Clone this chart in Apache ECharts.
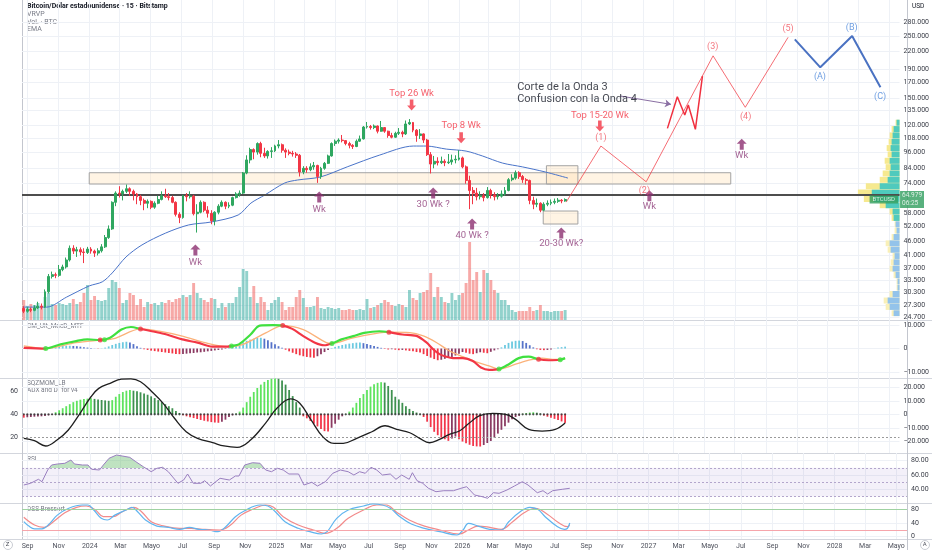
<!DOCTYPE html>
<html>
<head>
<meta charset="utf-8">
<script src="https://cdn.jsdelivr.net/npm/echarts@6/dist/echarts.min.js"></script>
<style>html,body{margin:0;padding:0;background:#fff;}#chart{width:932px;height:550px;}</style>
</head>
<body>
<div id="chart"></div>
<script>
// ================= DATA =================
const weekStart = '2023-08-21';          // first weekly candle
const weekCount = 248;                   // weeks shown on the time axis (incl. projection)
const xTickLabels = [
  ['2023-09-01','Sep'],['2023-11-01','Nov'],['2024-01-01','2024'],['2024-03-01','Mar'],['2024-05-01','Mayo'],
  ['2024-07-01','Jul'],['2024-09-01','Sep'],['2024-11-01','Nov'],['2025-01-01','2025'],['2025-03-01','Mar'],
  ['2025-05-01','Mayo'],['2025-07-01','Jul'],['2025-09-01','Sep'],['2025-11-01','Nov'],['2026-01-01','2026'],
  ['2026-03-01','Mar'],['2026-05-01','Mayo'],['2026-07-01','Jul'],['2026-09-01','Sep'],['2026-11-01','Nov'],
  ['2027-01-01','2027'],['2027-03-01','Mar'],['2027-05-01','Mayo'],['2027-07-01','Jul'],['2027-09-01','Sep'],
  ['2027-11-01','Nov'],['2028-01-01','2028'],['2028-03-01','Mar'],['2028-05-01','Mayo']
];
const priceTicks = [24.7,27.3,30.3,33.5,37,41,46,52,58,74,84,96,108,120,135,150,170,190,220,250,280]; // thousand USD
const macdTicks = [10,0,-10];
const sqzTicks = [20,10,0,-10,-20];
const adxTicks = [60,40,20];
const rsiTicks = [80,60,40];
const dssTicks = [80,40,0];

// weekly BTC candles, thousand USD
const firstOpen = 26.5;
const closes = [
 25.9,26.3,26.1,26.6,27.0,26.8,30.4,34.5,35.0,34.8,
 36.5,37.3,39.5,43.5,42.5,43.0,42.2,42.0,43.2,42.5,
 41.8,42.6,44.0,47.5,51.0,63.5,68.5,68.0,69.5,71.0,
 69.5,68.0,66.5,64.5,63.0,64.0,61.0,63.0,65.0,67.0,
 66.5,66.0,63.5,57.5,56.0,67.0,66.5,66.8,57.8,58.5,
 63.5,59.5,58.0,54.5,58.5,61.5,63.5,61.5,62.0,66.0,
 68.0,68.5,80.8,90.0,98.0,96.0,103.0,95.0,93.0,96.5,
 97.0,101.0,102.0,97.5,96.0,95.0,94.5,93.5,81.5,84.0,
 83.0,85.0,86.0,78.5,84.0,87.5,93.0,103.0,105.0,106.0,
 105.5,103.0,101.5,100.5,105.0,107.0,118.0,118.5,117.5,119.0,
 114.0,117.5,114.0,110.0,108.5,112.0,113.0,111.5,121.0,122.5,
 115.0,110.0,111.5,106.0,94.0,87.0,89.0,88.0,89.0,88.0,
 88.5,90.0,90.5,91.5,85.0,76.0,70.0,68.5,66.5,67.0,
 66.0,70.0,67.5,66.5,66.8,68.0,70.0,76.5,77.5,81.0,
 78.5,76.5,76.0,64.5,62.5,63.0,59.5,62.5,63.0,63.5,
 64.0,64.6,64.2,64.979];
const highs = [
 27.0,26.8,26.7,27.2,28.0,27.6,31.0,35.2,35.9,35.6,
 37.9,38.0,40.3,44.5,44.6,44.0,43.8,43.5,44.0,43.9,
 43.0,43.5,45.0,48.5,52.5,64.0,69.5,72.5,70.5,73.5,
 71.8,70.5,68.5,67.5,65.5,65.0,64.5,64.0,67.0,69.5,
 71.0,68.5,67.0,64.0,58.5,67.5,68.5,69.5,67.5,62.5,
 64.5,64.0,61.5,59.5,59.0,62.5,64.5,64.0,63.5,66.5,
 69.0,70.0,81.5,93.5,99.5,99.0,104.0,104.5,99.5,97.5,
 100.0,102.0,106.0,103.0,99.0,98.0,97.0,96.0,94.5,85.5,
 85.5,87.5,88.5,86.5,85.0,88.5,94.0,104.0,106.5,107.5,
 110.5,106.0,104.5,102.5,106.5,110.0,119.0,123.0,120.0,120.5,
 119.5,124.0,118.0,114.5,112.5,113.5,117.0,114.5,124.5,126.0,
 123.0,116.0,116.0,112.0,107.0,96.0,93.0,92.0,92.5,90.5,
 94.5,94.0,93.5,97.5,92.5,86.0,79.0,72.0,71.5,69.5,
 68.5,72.0,71.0,69.0,68.5,70.0,72.0,77.5,80.0,82.5,
 82.0,79.5,77.5,76.5,66.5,65.5,63.5,63.5,64.5,65.0,
 65.5,65.8,65.2,65.6];
const lows = [
 25.5,25.6,25.7,25.9,26.4,26.3,26.6,30.0,33.9,34.0,
 34.4,36.0,36.8,39.0,41.5,40.5,41.0,38.5,41.5,41.6,
 40.5,41.0,42.0,43.6,47.0,50.6,61.5,66.0,64.5,68.5,
 67.0,64.5,62.5,62.0,59.5,60.5,60.0,60.2,62.5,64.5,
 65.8,64.5,63.0,56.5,53.5,55.5,64.0,65.5,57.0,49.5,
 58.0,58.5,56.0,53.0,52.5,57.5,61.0,60.0,60.5,61.5,
 65.5,66.5,68.0,80.0,87.5,90.5,94.0,92.0,91.5,91.0,
 91.5,96.0,99.0,95.5,91.5,93.5,92.5,91.5,78.5,80.0,
 81.0,82.0,83.0,74.5,77.0,83.0,87.0,92.5,101.0,103.0,
 104.0,101.5,99.0,98.5,100.0,104.5,106.5,116.5,115.5,116.0,
 112.0,113.5,112.5,108.0,107.5,108.0,110.5,108.5,110.5,120.0,
 113.0,104.5,107.0,103.5,93.0,80.5,84.0,86.0,87.0,85.5,
 87.0,86.5,87.5,89.5,84.0,74.0,60.0,62.5,64.5,65.0,
 64.0,65.5,65.5,64.5,65.0,66.0,67.0,69.5,75.5,76.5,
 77.0,74.5,73.5,62.5,60.0,61.0,58.5,59.0,61.5,62.0,
 62.5,63.2,63.0,63.8];
// weekly volume (relative units)
const volumes = [
 20,14,16,15,17,13,23,27,16,15, 17,16,15,17,21,16,18,27,35,20,
 24,20,19,20,32,40,38,32,17,20, 27,25,15,21,13,18,16,17,15,18,
 17,20,18,21,22,25,23,25,37,27, 22,20,18,22,21,12,17,13,17,17,
 23,33,51,49,23,34,17,23,18,10, 17,20,23,18,10,13,13,23,30,22,
 13,13,14,23,12,11,13,12,11,12, 10,10,11,10,10,11,10,21,12,13,
 15,17,20,18,15,14,16,15,13,30, 22,20,27,28,30,47,23,33,23,18,
 17,27,20,25,27,37,78,40,48,28, 50,47,40,30,27,20,20,15,10,8,
 9,9,9,13,9,10,15,9,9,8, 9,9,9,10];
// EMA (week index, thousand USD)
const emaPts = [[0,26.8],[6.5,26.8],[12.1,29.1],[18.5,31.9],[22.2,33.0],[25,35.5],[28.9,40.5],[33.4,44.7],[40.1,49.3],[46.6,52.7],[53,54.0],[60.6,57.2],[64.2,63.1],[68.1,67.4],[73.7,74.4],[77.4,76.3],[83.8,78.2],[91.4,85.0],[100.6,93.7],[110.1,100.9],[113.8,100.9],[119.4,98.4],[125,96.8],[129.7,92.9],[135.3,87.7],[140.9,85.0],[147.4,81.5],[153.8,77.5]];
// visible-range volume profile (price bucket edges, total width, up part)
const profEdges = [24.8,26.1,27.5,29.0,30.6,32.2,33.9,35.8,37.7,39.7,41.8,44.1,46.4,48.9,51.5,54.3,57.2,60.3,63.5,66.9,70.5,74.3,78.3,82.5,86.9,91.6,96.5,101.7,107.1,112.9,118.9,125.3];
const profTotal = [8,14,16,10,3,3,6,10,9,7,12,14,8,5,5,8,10,20,36,42,34,20,17,14,15,12,13,11,10,8,4];
const profUp    = [6,10,12,7,2,2,4,7,6,5,9,10,6,3,4,6,7,14,26,28,20,12,10,9,10,8,9,8,7,6,3];
const valueAreaLow = 54.3;
// drawings
const levelLine = 67.7;
const boxes = [[18.5,81.0,199.8,73.8],[147.7,85.8,156.6,73.8],[146.8,59.1,156.6,53.1]];
const waveRed = [[153.3,63.6],[163.1,100.9],[175.9,75.2],[194.8,212],[203.9,138.8],[216,246.9]];
const zigzag = [[181.9,116.7],[184.7,151.4],[186.8,130.3],[187.8,141.4],[189.8,115.8],[191.8,179.5]];
const waveABC = [[217.9,242.9],[225.1,192.9],[234.1,249.5],[242.1,163.6]];
const noteArrow = [[168.6,152.3],[182.9,142.2]];
const noteText = [['Corte de la Onda 3\nConfusion con la Onda 4',139.3,155.5]];
const redArrows = [[109.6,141.4],[123.6,108.0],[162.8,118.9]];
const redTexts = [['Top 26 Wk',109.6,154.8],['Top 8 Wk',123.6,119.2],['Top 15-20 Wk',162.8,129.2]];
const wkArrows = [[48.5,42.9],[83.5,66.3],[115.7,68.5],[126.7,53.1],[151.9,49.3],[176.8,67.0],[202.9,102.5]];
const wkTexts = [['Wk',48.5,38.8],['Wk',83.5,59.6],['30 Wk ?',115.7,62.1],['40 Wk ?',126.7,48.1],['20-30 Wk?',151.9,45.1],['Wk',176.8,61.5],['Wk',202.9,93.6]];
const waveTexts = [['(1)',163.1,107.8],['(2)',175.4,69.7],['(3)',194.7,228],['(4)',204,128.5],['(5)',216,264]];
const abcTexts = [['(A)',225,178],['(B)',234,266.5],['(C)',242,151.5]];
// MACD (thousand USD)
const macdLine = [[0,0.3],[6.2,0.0],[10.4,1.8],[14.8,3.2],[18,3.9],[21.6,3.6],[24.4,4.6],[27.6,8.1],[30.3,9.2],[33,8.4],[36.2,7.4],[40.4,6.0],[44.8,3.9],[49.1,2.5],[53.3,0.8],[57.6,0.8],[58.7,1.1],[60.8,1.8],[64.1,6.0],[66.7,9.8],[70.5,10.0],[73.2,9.8],[75.9,8.4],[79,5.3],[82.3,2.5],[84.9,1.4],[87.1,2.2],[89.8,3.9],[93.1,5.3],[96.2,6.7],[100.5,7.4],[103.2,7.0],[107,6.0],[111,5.4],[113.8,2.6],[115.7,-0.3],[117.5,-2.4],[119.4,-3.5],[121.3,-4.1],[124.1,-4.1],[126.9,-5.3],[129.2,-8.1],[131.5,-9.1],[134.3,-8.8],[137.1,-6.7],[139.9,-4.1],[142.7,-3.5],[145.5,-4.6],[148.3,-5.0],[151.6,-4.8],[153,-4.1]];
const macdSignal = [[0,1.1],[6.2,0.0],[14.8,2.5],[21.6,3.6],[25.5,4.2],[33,8.4],[38.3,7.4],[44.8,5.3],[51.2,2.5],[57.6,0.8],[62,1.8],[68.4,6.7],[73.2,9.8],[79,8.1],[85.5,2.5],[87.1,2.2],[93.1,4.6],[100.5,6.7],[103.2,7.0],[109.1,6.8],[112.9,5.4],[116.6,2.6],[120.3,-1.0],[124.1,-3.5],[127.8,-5.7],[131.5,-7.4],[134.3,-8.8],[139,-6.7],[142.7,-5.0],[146.5,-4.1],[150.2,-4.7],[153,-4.4]];
const macdCross = [[6.2,0.0,1],[21.6,3.6,0],[22.8,3.8,1],[33,8.4,0],[58.7,1.1,1],[73.2,9.8,0],[87.1,2.2,1],[103.2,7.0,0],[134.3,-8.8,1],[145.5,-4.6,0],[151.6,-4.8,1]];
const macdHist = [
 -0.15,-0.15,-0.15,-0.15,-0.15,-0.1,0.2,0.4,0.6,0.8, 1.0,1.1,1.2,1.2,1.1,1.0,0.8,0.6,0.4,0.2,
 0.05,-0.05,0.1,0.4,0.9,1.5,2.0,2.4,2.7,2.9, 2.6,1.9,1.0,0.3,-0.3,-0.6,-0.9,-1.1,-1.3,-1.5,
 -1.7,-1.9,-2.1,-2.3,-2.4,-2.3,-2.2,-2.0,-1.9,-1.7, -1.6,-1.4,-1.2,-1.0,-0.8,-0.6,-0.4,-0.2,0.3,0.8,
 1.4,2.0,2.7,3.3,3.8,4.2,4.5,4.6,4.2,3.5, 2.7,1.8,1.0,0.3,-0.5,-1.2,-1.8,-2.4,-2.9,-3.3,
 -3.6,-3.8,-3.9,-3.3,-2.4,-1.5,-0.6,0.2,0.7,1.1, 1.5,1.8,2.1,2.3,2.5,2.6,2.3,1.9,1.5,1.1,
 0.7,0.3,-0.2,-0.4,-0.3,-0.5,-0.7,-0.6,-0.8,-1.0, -1.2,-1.5,-1.7,-2.4,-3.2,-3.9,-4.5,-5.0,-4.8,-4.4,
 -4.0,-3.6,-3.0,-2.2,-1.5,-1.8,-2.2,-2.4,-2.0,-1.6, -1.8,-2.0,-1.4,-0.8,-0.3,0.5,1.5,2.4,3.0,3.3,
 3.4,3.2,2.4,1.4,0.5,-0.3,-0.6,-0.7,-0.6,-0.4, 0.1,0.4,0.6,0.8];
// Squeeze momentum (thousand USD) and ADX
const sqzHist = [
 -2.5,-2.2,-2.0,-1.8,-1.6,-1.5,-1.2,-0.8,-0.3,1.5, 3.0,4.5,6.0,7.5,9.0,10.0,10.8,11.3,11.6,11.8,
 11.4,11.0,10.6,10.3,10.0,10.5,13.0,15.0,16.5,17.5, 18.0,17.5,17.0,16.3,15.5,14.5,13.3,12.0,10.5,9.0,
 7.5,6.0,4.5,2.5,1.0,-0.8,-1.5,-2.2,-2.8,-3.5, -4.2,-4.8,-5.3,-5.8,-6.1,-6.3,-5.5,-4.0,-2.0,-0.8,
 0.5,2.0,5.0,9.0,13.0,16.5,19.5,22.0,24.0,25.5, 26.3,26.6,26.3,25.0,22.0,18.0,13.5,9.0,5.0,-1.5,
 -3.0,-5.0,-7.0,-9.0,-11.0,-12.5,-12.8,-10.0,-7.0,-4.0, -1.5,0.3,2.0,5.0,8.5,12.0,15.0,18.0,20.5,22.3,
 23.3,23.8,23.5,21.0,18.0,13.0,11.0,8.5,6.0,4.0, 2.5,1.3,0.4,-2.0,-5.5,-9.5,-13.0,-15.5,-17.3,-18.5,
 -19.7,-18.0,-16.5,-18.5,-20.2,-21.5,-22.6,-23.5,-23.8,-23.9, -22.8,-21.3,-19.8,-17.2,-14.3,-11.5,-8.8,-6.2,-3.7,-2.0,
 -1.2,0.4,0.9,1.3,1.5,1.2,0.6,-1.0,-1.8,-2.6, -3.4,-4.3,-5.3,-6.4];
const adxPts = [[0,18.9],[3,16.8],[6.2,12.2],[9.4,17.4],[12.6,26.1],[15.9,40.6],[19,55],[21.2,62.3],[24.4,66.7],[27.6,70.3],[30.3,70.6],[33,68.1],[36.2,59.4],[39.4,49.3],[42.6,36.3],[45.9,24.6],[49.1,18.9],[53.4,15.1],[56.6,12.2],[60.3,11],[64.1,17.4],[68.4,32.3],[71.6,45.2],[75.4,53.1],[78,49.3],[81.2,34.8],[84.5,20.3],[87.7,14.5],[90.3,14.5],[94.1,18.9],[98.4,24.6],[102.1,29.8],[105.4,26.7],[109.1,23.7],[111.9,18.8],[114.7,15],[117.5,17.9],[120.3,22.3],[123.1,25.2],[125.5,31],[128.7,38.3],[132.5,40.5],[136.2,39.7],[139,35.3],[142.7,26.6],[146.5,25.2],[150.2,26.6],[153,32.2]];
// RSI
const rsiPts = [[0,46],[1.9,48.4],[4.1,54],[5.1,50.6],[6.7,67],[7.8,74],[9.4,75.4],[11.5,76.4],[13.2,81],[14.2,75.4],[16.4,74],[18,74],[19,68],[21.2,67],[22.3,74],[23.9,83.4],[26,88],[27.6,86.6],[29.7,84.7],[31.4,78.6],[33.5,71.6],[35.7,64.6],[37.3,69.4],[38.9,70.8],[40.5,64.6],[43.2,48.4],[44.8,53],[45.9,61.4],[47.5,48.4],[49.6,48.4],[50.7,52],[52.3,44.6],[55,55.4],[57.6,53],[59.3,58.6],[60.3,58.6],[61.9,74],[64.1,77.2],[66.2,76.4],[67.8,67],[69.4,64.6],[71.1,69.4],[72.7,67],[74.3,61.4],[77,61.4],[78.5,46],[80.7,49.8],[82.3,44.6],[84.5,50.6],[86.6,62.4],[88.7,67],[90.9,64.6],[92.5,60],[94.1,64.6],[95.7,62.4],[97.3,70.8],[98.9,67],[100.5,60],[102.7,61.4],[104.3,54],[105.9,60],[108,54],[108.9,63.2],[110.2,52],[111.8,48.4],[113.4,41.4],[115.5,36.6],[117.7,38],[120.4,38],[122.5,41.4],[124.1,43.6],[126.3,32],[128.4,29.7],[130,27.4],[131.6,35.2],[133.2,34.4],[135.4,39],[137.5,44.6],[139.7,50.6],[141.3,46],[143.9,35.2],[145.5,38],[146.8,33.4],[148.2,38],[150.9,40],[153,41.4]];
// DSS Bressert
const dssBlue = [[0,43.8],[1.4,31],[3,23],[5.1,23],[7.3,39],[9.4,63],[12.6,83],[16.4,92.5],[18,92.5],[19.6,78],[21.7,53.7],[23.4,48.8],[25.5,63],[28.7,78],[30.3,85.8],[31.9,73],[34.1,48.8],[37.3,31],[40.5,27.4],[43.7,21.6],[46.4,27.4],[49.1,21.6],[51.8,19.6],[54.4,14.6],[56.6,29.2],[59.3,58.4],[61.9,76],[66.2,92.5],[68.4,89.6],[70.5,73],[73.2,43.8],[76.9,24.5],[80.2,14.6],[83.4,7.9],[85,14.6],[87.7,53.7],[90.9,78],[95.2,89.6],[97.8,95.5],[100.5,92.5],[102.7,83],[105.4,58.4],[108.6,37],[112.3,24.5],[116.6,14.6],[121.4,5],[123.1,19.6],[124.6,39],[127.3,31],[130.6,21.6],[133.8,19.6],[135.9,43.8],[139.1,73],[141.8,85.8],[144,80],[146.1,58.4],[149.3,31],[151.5,21.6],[152.3,24],[153,40]];
const dssRed = [[0,56.6],[3,34],[5.7,27.4],[8.3,43.8],[11.5,70],[14.8,85.8],[17.5,89.6],[20.1,78],[22.3,58.4],[25,58.4],[27.6,73],[30.8,85.8],[33,73],[35.7,43.8],[39.4,31],[43.7,24.5],[46.9,24.5],[50.1,21.6],[55,19.6],[57.6,31],[60.9,63],[64.1,80],[67.8,92.5],[70,85.8],[72.7,58.4],[76.9,34],[81.2,19.6],[84.5,9.9],[87.7,24.5],[90.9,53.7],[95.2,78],[98.9,92.5],[101.6,92.5],[104.3,73],[108,48.8],[112.3,31],[116.6,19.6],[122,7.9],[124.6,19.6],[127.3,31],[130.6,27.4],[133.8,21.6],[137,43.8],[140.2,70],[143.4,83],[146.6,66.3],[149.9,40.9],[152.3,29.5],[153,33]];
const priceCountdown = '06:25';

// ================= CHART =================
const FONT = 'Roboto, "Noto Sans", sans-serif';
const START = Date.parse(weekStart + 'T00:00:00Z');
const wkPos = d => (Date.parse(d + 'T00:00:00Z') - START) / (7 * 864e5) - 0.5;
const xVals = xTickLabels.map(t => wkPos(t[0]));
const xLabelMap = {};
xTickLabels.forEach((t, i) => { xLabelMap[xVals[i].toFixed(3)] = t[1]; });
const GRID_L = 22, GRID_R = 25;
const grids = [
  {left: GRID_L, right: GRID_R, top: 0, height: 320},
  {left: GRID_L, right: GRID_R, top: 320, height: 58},
  {left: GRID_L, right: GRID_R, top: 378, height: 75},
  {left: GRID_L, right: GRID_R, top: 453, height: 50},
  {left: GRID_L, right: GRID_R, top: 503, height: 36}
];
const gridLineColor = '#eef1f6';
function mkX(gi, showLabel) {
  return {type: 'value', gridIndex: gi, min: -0.5, max: weekCount - 0.5,
    axisLine: {show: false}, axisTick: {show: false, customValues: xVals},
    axisLabel: {show: showLabel, customValues: xVals, formatter: v => xLabelMap[Number(v).toFixed(3)] || '',
      fontSize: 7, color: '#50535e', margin: 4, fontFamily: FONT},
    splitLine: {show: true, lineStyle: {color: gridLineColor, width: 1}}};
}
const lbl = (vals, fmt, extra) => Object.assign({customValues: vals, formatter: fmt, fontSize: 7, color: '#3d404a', margin: 4, fontFamily: FONT}, extra || {});
const kfmt = v => v === 0 ? '0' : (v < 0 ? '\u2212' : '') + Math.abs(v).toFixed(3);
const xAxes = [
  mkX(0, false),
  {type: 'value', gridIndex: 0, min: 0, max: 932 - GRID_L - GRID_R, inverse: true, show: false},
  mkX(1, false), mkX(2, false), mkX(3, false), mkX(4, true)
];
const yAxes = [
  {type: 'log', gridIndex: 0, position: 'right', min: 24.1, max: 335.7, axisLine: {show: false},
   axisTick: {show: false, customValues: priceTicks}, axisLabel: lbl(priceTicks, v => Number(v).toFixed(3)),
   splitLine: {show: true, lineStyle: {color: gridLineColor}}},
  {type: 'value', gridIndex: 0, min: 0, max: 320, show: false},
  {type: 'value', gridIndex: 1, position: 'right', min: -12.6, max: 12.2, axisLine: {show: false},
   axisTick: {show: false, customValues: macdTicks}, axisLabel: lbl(macdTicks, kfmt),
   splitLine: {show: true, lineStyle: {color: gridLineColor}}},
  {type: 'value', gridIndex: 2, position: 'right', min: -28.7, max: 26.9, axisLine: {show: false},
   axisTick: {show: false, customValues: sqzTicks}, axisLabel: lbl(sqzTicks, kfmt),
   splitLine: {show: true, lineStyle: {color: gridLineColor}}},
  {type: 'value', gridIndex: 2, position: 'left', min: 6.1, max: 71.3, axisLine: {show: false},
   axisTick: {show: false, customValues: adxTicks}, axisLabel: lbl(adxTicks, v => String(v), {margin: 4}),
   splitLine: {show: false}},
  {type: 'value', gridIndex: 3, position: 'right', min: 20.8, max: 90.8, axisLine: {show: false},
   axisTick: {show: false, customValues: rsiTicks}, axisLabel: lbl(rsiTicks, v => Number(v).toFixed(2)),
   splitLine: {show: true, lineStyle: {color: gridLineColor}}},
  {type: 'value', gridIndex: 4, position: 'right', min: -6.7, max: 98.4, axisLine: {show: false},
   axisTick: {show: false, customValues: dssTicks}, axisLabel: lbl(dssTicks, v => String(v)),
   splitLine: {show: true, lineStyle: {color: gridLineColor}}}
];

const UP = '#2fa760', DOWN = '#f23645';
const candleData = closes.map((c, i) => [i, i ? closes[i - 1] : firstOpen, c, lows[i], highs[i]]);
const last = closes[closes.length - 1];
const series = [];
function add(s) { series.push(s); return series.length - 1; }

// volume
add({type: 'bar', xAxisIndex: 0, yAxisIndex: 1, z: 1, barWidth: 2.9, silent: true,
  data: volumes.map((v, i) => ({value: [i, v], itemStyle: {color: candleData[i][2] >= candleData[i][1] ? 'rgba(38,166,154,0.5)' : 'rgba(239,83,80,0.5)'}}))});
// boxes
add({type: 'line', xAxisIndex: 0, yAxisIndex: 0, data: [], z: 2, silent: true,
  markArea: {silent: true, itemStyle: {color: 'rgba(255,222,170,0.32)', borderColor: '#a3a3a3', borderWidth: 1},
    data: boxes.map(b => [{coord: [b[0], b[1]]}, {coord: [b[2], b[3]]}])}});
// volume profile
add({type: 'custom', xAxisIndex: 1, yAxisIndex: 0, z: 2, silent: true,
  data: profTotal.map((t, i) => [profEdges[i], profEdges[i + 1], t, profUp[i]]),
  encode: {x: [2, 3], y: [0, 1]},
  renderItem: (params, api) => {
    const lo = api.value(0), hi = api.value(1), tot = api.value(2), up = api.value(3);
    const a = api.coord([0, hi]), b = api.coord([tot, lo]), c = api.coord([up, lo]);
    const inVA = lo >= valueAreaLow - 0.01;
    const h = Math.max(0.5, b[1] - a[1] - 0.4);
    return {type: 'group', children: [
      {type: 'rect', shape: {x: b[0], y: a[1], width: a[0] - b[0], height: h}, style: {fill: inVA ? '#f6e98f' : '#f9f0b8'}},
      {type: 'rect', shape: {x: c[0], y: a[1], width: a[0] - c[0], height: h}, style: {fill: inVA ? '#4fcabd' : '#93c3ea'}}
    ]};
  }});
// candles
add({type: 'candlestick', xAxisIndex: 0, yAxisIndex: 0, z: 5, barWidth: 2.4, silent: true,
  dimensions: ['t', 'open', 'close', 'lowest', 'highest'],
  encode: {x: 't', y: ['open', 'close', 'lowest', 'highest']},
  data: candleData,
  itemStyle: {color: UP, color0: DOWN, borderColor: UP, borderColor0: DOWN, borderWidth: 1},
  markLine: {silent: true, symbol: 'none', animation: false,
    data: [{yAxis: levelLine, lineStyle: {color: '#4d4d4d', width: 2, type: 'solid'}, label: {show: false}}]}});
// EMA
add({type: 'line', xAxisIndex: 0, yAxisIndex: 0, z: 4, data: emaPts, symbol: 'none', smooth: 0.3, silent: true,
  lineStyle: {color: '#4a74c9', width: 1}});
// projections
add({type: 'line', xAxisIndex: 0, yAxisIndex: 0, z: 6, data: waveRed, symbol: 'none', silent: true,
  lineStyle: {color: 'rgba(242,60,70,0.75)', width: 1}});
add({type: 'line', xAxisIndex: 0, yAxisIndex: 0, z: 6, data: zigzag, symbol: 'none', silent: true,
  lineStyle: {color: '#f0303f', width: 1.5}});
add({type: 'line', xAxisIndex: 0, yAxisIndex: 0, z: 6, data: waveABC, symbol: 'none', silent: true,
  lineStyle: {color: '#4a72c2', width: 2}});
add({type: 'line', xAxisIndex: 0, yAxisIndex: 0, z: 6, data: [], silent: true,
  markLine: {silent: true, symbol: ['none', 'arrow'], symbolSize: 6, animation: false,
    lineStyle: {color: '#8a6fa3', width: 1, type: 'solid'}, label: {show: false},
    data: [[{coord: noteArrow[0]}, {coord: noteArrow[1]}]]}});
// arrows
const upArrow = 'path://M5,0 L10,5 L7,5 L7,11 L3,11 L3,5 L0,5 Z';
const downArrow = 'path://M3,0 L7,0 L7,6 L10,6 L5,11 L0,6 L3,6 Z';
add({type: 'scatter', xAxisIndex: 0, yAxisIndex: 0, z: 7, silent: true, symbol: downArrow, symbolSize: [9, 11],
  itemStyle: {color: '#f23645'}, data: redArrows});
add({type: 'scatter', xAxisIndex: 0, yAxisIndex: 0, z: 7, silent: true, symbol: upArrow, symbolSize: [10, 11],
  itemStyle: {color: '#8c2f70'}, data: wkArrows});
// texts
function textSeries(items, color, size, extra) {
  return {type: 'scatter', xAxisIndex: 0, yAxisIndex: 0, z: 8, silent: true, symbolSize: 1,
    itemStyle: {color: 'rgba(0,0,0,0)'},
    data: items.map(t => ({name: t[0], value: [t[1], t[2]]})),
    label: Object.assign({show: true, position: 'inside', formatter: '{b}', color: color, fontSize: size, fontFamily: FONT}, extra || {})};
}
add(textSeries(redTexts, '#f23645', 9.5));
add(textSeries(wkTexts, '#8c3b78', 9.5));
add(textSeries(waveTexts, '#f05560', 9));
add(textSeries(abcTexts, '#4a86d9', 9));
add(textSeries(noteText, '#131722', 11, {position: 'right', distance: 0, align: 'left', lineHeight: 11.5}));
// price labels on the axis
add({type: 'scatter', xAxisIndex: 0, yAxisIndex: 0, z: 9, silent: true, symbolSize: 1, clip: false,
  itemStyle: {color: 'rgba(0,0,0,0)'},
  data: [
    {value: [weekCount - 0.5, last], label: {show: true, position: 'right', distance: 0, formatter: last.toFixed(3) + '\n' + priceCountdown,
      backgroundColor: '#2f9e5e', color: '#fff', fontSize: 6.5, lineHeight: 7.5, padding: [1, 2, 1, 2], fontFamily: FONT}},
    {value: [weekCount - 0.5, last], label: {show: true, position: 'left', distance: 1, formatter: 'BTCUSD',
      backgroundColor: '#2f9e5e', color: '#fff', fontSize: 6, padding: [1, 3, 1, 3], fontFamily: FONT}}
  ]});

// ---- MACD panel
const macdColor = (v, p) => v >= 0 ? (v >= p ? '#6cc9e0' : '#5673c9') : (v <= p ? '#f23645' : '#8c3a62');
add({type: 'bar', xAxisIndex: 2, yAxisIndex: 2, barWidth: 1.8, silent: true,
  data: macdHist.map((v, i) => ({value: [i, v], itemStyle: {color: macdColor(v, i ? macdHist[i - 1] : v)}}))});
add({type: 'line', xAxisIndex: 2, yAxisIndex: 2, data: macdSignal, symbol: 'none', smooth: 0.3, silent: true,
  lineStyle: {color: '#fbb27a', width: 1.3}});
const macdIdx = add({type: 'line', xAxisIndex: 2, yAxisIndex: 2, data: macdLine, symbol: 'none', smooth: 0.3, silent: true,
  lineStyle: {width: 2.2}});
add({type: 'scatter', xAxisIndex: 2, yAxisIndex: 2, symbolSize: 5, silent: true, z: 5,
  data: macdCross.map(c => ({value: [c[0], c[1]], itemStyle: {color: c[2] ? '#3fe03f' : '#f23645'}}))});

// ---- SQZMOM panel
const sqzColor = (v, p) => v >= 0 ? (v >= p ? '#5ee35e' : '#3f9150') : (v <= p ? '#f2364a' : '#8b3c63');
add({type: 'bar', xAxisIndex: 3, yAxisIndex: 3, barWidth: 1.8, silent: true,
  data: sqzHist.map((v, i) => ({value: [i, v], itemStyle: {color: sqzColor(v, i ? sqzHist[i - 1] : v)}}))});
add({type: 'scatter', xAxisIndex: 3, yAxisIndex: 3, symbolSize: 2.2, silent: true, z: 4,
  itemStyle: {color: '#2a2a2a'}, data: sqzHist.map((v, i) => [i, 0])});
add({type: 'line', xAxisIndex: 3, yAxisIndex: 4, data: adxPts, symbol: 'none', smooth: 0.4, silent: true, z: 5,
  lineStyle: {color: '#1e1e1e', width: 1.3},
  markLine: {silent: true, symbol: 'none', animation: false, label: {show: false},
    lineStyle: {color: '#9a9a9a', width: 1, type: [2, 2]}, data: [{yAxis: 20}]}});

// ---- RSI panel
add({type: 'line', xAxisIndex: 4, yAxisIndex: 5, data: rsiPts, symbol: 'none', silent: true, z: 5,
  lineStyle: {color: '#9a7fc0', width: 1},
  markArea: {silent: true, itemStyle: {color: 'rgba(126,87,194,0.09)'}, data: [[{yAxis: 30}, {yAxis: 70}]]},
  markLine: {silent: true, symbol: 'none', animation: false, label: {show: false},
    lineStyle: {color: '#b3a6cc', width: 1, type: [2, 2]}, data: [{yAxis: 70}, {yAxis: 50}, {yAxis: 30}]}});
const rsiFillIdx = add({type: 'line', xAxisIndex: 4, yAxisIndex: 5, data: rsiPts, symbol: 'none', silent: true, z: 4,
  lineStyle: {width: 0, opacity: 0}, areaStyle: {origin: 'start', opacity: 1}});

// ---- DSS panel
add({type: 'line', xAxisIndex: 5, yAxisIndex: 6, data: dssRed, symbol: 'none', smooth: 0.4, silent: true,
  lineStyle: {color: '#f28a8a', width: 1.2},
  markLine: {silent: true, symbol: 'none', animation: false, label: {show: false},
    data: [{yAxis: 80, lineStyle: {color: '#9fd2a2', width: 1, type: 'solid'}}, {yAxis: 20, lineStyle: {color: '#f6a5ab', width: 1, type: 'solid'}}]}});
add({type: 'line', xAxisIndex: 5, yAxisIndex: 6, data: dssBlue, symbol: 'none', smooth: 0.4, silent: true,
  lineStyle: {color: '#5fb4ef', width: 1.2}});

// visual maps (MACD colour by cross, RSI overbought fill)
const G = '#3fe03f', R = '#f23645';
const macdPieces = [{lt: macdCross[0][0], color: R}];
macdCross.forEach((c, k) => {
  const p = {gte: c[0], color: c[2] ? G : R};
  if (k < macdCross.length - 1) p.lt = macdCross[k + 1][0];
  macdPieces.push(p);
});

// graphics: header, panel names, separators
const txt = (x, y, s, o) => ({type: 'text', left: x, top: y, silent: true,
  style: Object.assign({text: s, fontSize: 7, fill: '#787b86', fontFamily: FONT}, o || {})});
const hline = y => ({type: 'line', silent: true, shape: {x1: 0, y1: y, x2: 932, y2: y}, style: {stroke: '#d3d6dd', lineWidth: 1}});
const graphic = [
  txt(27, 3, 'Bitcoin/Dólar estadounidense \u00b7 15 \u00b7 Bitstamp', {fill: '#131722', fontWeight: 'bold'}),
  txt(27, 11, 'VRVP'), txt(27, 18.5, 'Vol. \u00b7 BTC'), txt(27, 26, 'EMA'),
  txt(912, 3, 'USD', {fill: '#131722', fontSize: 6.5}),
  txt(27, 323, 'CM_Ult_MacD_MTF', {fontSize: 6.5}),
  txt(27, 380, 'SQZMOM_LB', {fontSize: 6.5}),
  txt(27, 387, 'ADX and DI for v4', {fontSize: 6.5}),
  txt(27, 456, 'RSI', {fontSize: 6.5}),
  txt(27, 506, 'DSS Bressert', {fontSize: 6.5}),
  hline(320.5), hline(378.5), hline(453.5), hline(503.5), hline(539.5),
  {type: 'line', silent: true, shape: {x1: 22.5, y1: 0, x2: 22.5, y2: 539}, style: {stroke: '#c3c6ce', lineWidth: 1}},
  {type: 'line', silent: true, shape: {x1: 907.5, y1: 0, x2: 907.5, y2: 550}, style: {stroke: '#c3c6ce', lineWidth: 1}},
  {type: 'circle', silent: true, shape: {cx: 8, cy: 545, r: 4.5}, style: {fill: '#fff', stroke: '#c9ccd3', lineWidth: 1}},
  txt(5.8, 541.5, 'Z', {fontSize: 6, fill: '#50535e'}),
  {type: 'circle', silent: true, shape: {cx: 925, cy: 545, r: 4.5}, style: {fill: '#fff', stroke: '#c9ccd3', lineWidth: 1}},
  txt(922.8, 541.5, 'A', {fontSize: 6, fill: '#50535e'})
];

const chart = echarts.init(document.getElementById('chart'), null, {width: 932, height: 550});
chart.setOption({
  animation: false,
  backgroundColor: '#ffffff',
  textStyle: {fontFamily: FONT},
  grid: grids,
  xAxis: xAxes,
  yAxis: yAxes,
  visualMap: [
    {type: 'piecewise', show: false, seriesIndex: macdIdx, dimension: 0, pieces: macdPieces},
    {type: 'piecewise', show: false, seriesIndex: rsiFillIdx, dimension: 1,
      pieces: [{gte: 70, lte: 1000, color: 'rgba(102,187,106,0.42)'}, {gte: -1000, lt: 70, color: 'rgba(255,255,255,0)'}]}
  ],
  graphic: graphic,
  series: series
});
</script>
</body>
</html>
